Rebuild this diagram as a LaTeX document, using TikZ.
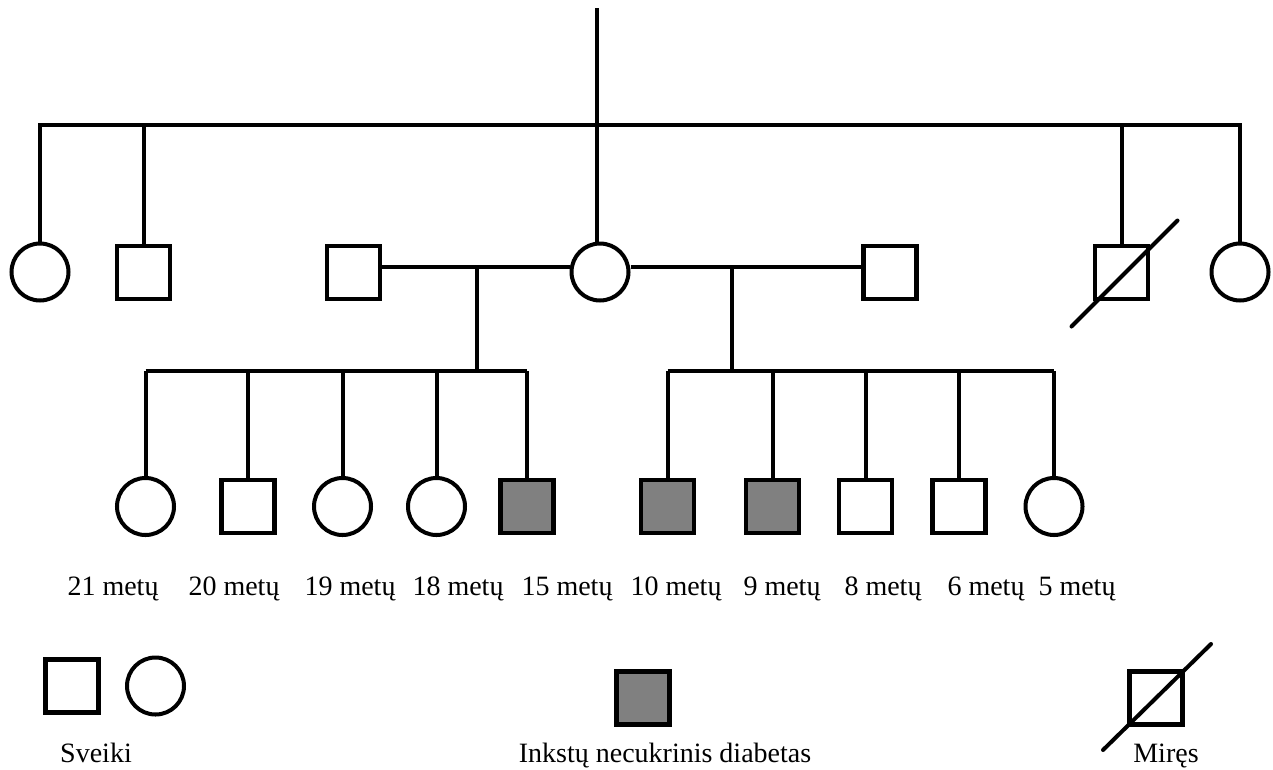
\documentclass[tikz,border=0pt]{standalone}
\usepackage{fontspec}
\setmainfont{Liberation Serif}
\usetikzlibrary{calc}

\tikzset{
  male/.style={draw,rectangle,line width=4.5pt,minimum size=53pt,inner sep=0pt},
  female/.style={draw,circle,line width=4pt,minimum size=57pt,inner sep=0pt},
  ill/.style={male,fill=gray},
  line/.style={line width=4pt},
  dead/.style={line width=4pt,line cap=round},
  txt/.style={anchor=base,inner sep=0pt,font=\fontsize{28}{34}\selectfont},
}

\begin{document}
\begin{tikzpicture}[x=1pt,y=-1pt]
\useasboundingbox (0,0) rectangle (1273,769);

% second generation
\node[female] (p1) at (40,272) {};
\node[male]   (p2) at (143.5,272.5) {};
\node[male]   (p3) at (353.5,272.5) {};
\node[female] (p4) at (600,272) {};
\node[male]   (p5) at (890,272.5) {};
\node[male]   (p6) at (1121.5,272.5) {};
\node[female] (p7) at (1240,272) {};

\coordinate (top) at (597,8);
\coordinate (sib0) at (597,125);
\draw[line] (top) -- (sib0 |- p4.north);
\draw[line] (p1.north) -- (p1.north |- sib0) -- (p7.north |- sib0) -- (p7.north);
\draw[line] (p2.north) -- (p2.north |- sib0);
\draw[line] (p6.north) -- (p6.north |- sib0);
\draw[dead] ($(p6.center)+(-50,54)$) -- ($(p6.center)+(56,-52)$);

% marriages
\coordinate (m1) at (477,267);
\coordinate (m2) at (732,267);
\coordinate (sib1) at (477,371);
\coordinate (sib2) at (732,371);
\draw[line] (p3.east |- m1) -- (p4.west |- m1);
\draw[line] (p4.east |- m2) -- (p5.west |- m2);
\draw[line] (m1) -- (sib1);
\draw[line] (m2) -- (sib2);

% third generation
\node[female] (k1)  at (145.5,506.5) {};
\node[male]   (k2)  at (248,506.5) {};
\node[female] (k3)  at (342.5,506.5) {};
\node[female] (k4)  at (436.5,506.5) {};
\node[ill]    (k5)  at (527,506.5) {};
\node[ill]    (k6)  at (667.5,506.5) {};
\node[ill]    (k7)  at (772.5,506.5) {};
\node[male]   (k8)  at (865.5,506.5) {};
\node[male]   (k9)  at (959,506.5) {};
\node[female] (k10) at (1054,506.5) {};

\draw[line] (k1.north |- sib1) -- (k5.north |- sib1);
\draw[line] (k6.north |- sib2) -- (k10.north |- sib2);
\foreach \k in {1,...,5}
  \draw[line] (k\k.north) -- (k\k.north |- sib1);
\foreach \k in {6,...,10}
  \draw[line] (k\k.north) -- (k\k.north |- sib2);

\foreach \x/\a in {113/21,234/20,350/19,458/18,567/15,676/10,782/9,883/8,986/6,1077/5}
  \node[txt] (age\a) at (\x,595) {\a~metų};

% legend
\node[male]   (l1) at (72,686) {};
\node[female] (l2) at (155.5,686) {};
\node[ill]    (l3) at (643,698) {};
\node[male]   (l4) at (1156,698) {};
\draw[dead] ($(l4.center)+(-53,52)$) -- ($(l4.center)+(55,-54)$);

\node[txt] (t1) at (96,762) {Sveiki};
\node[txt] (t2) at (665,762) {Inkstų necukrinis diabetas};
\node[txt] (t3) at (1166,762) {Miręs};

\end{tikzpicture}
\end{document}
